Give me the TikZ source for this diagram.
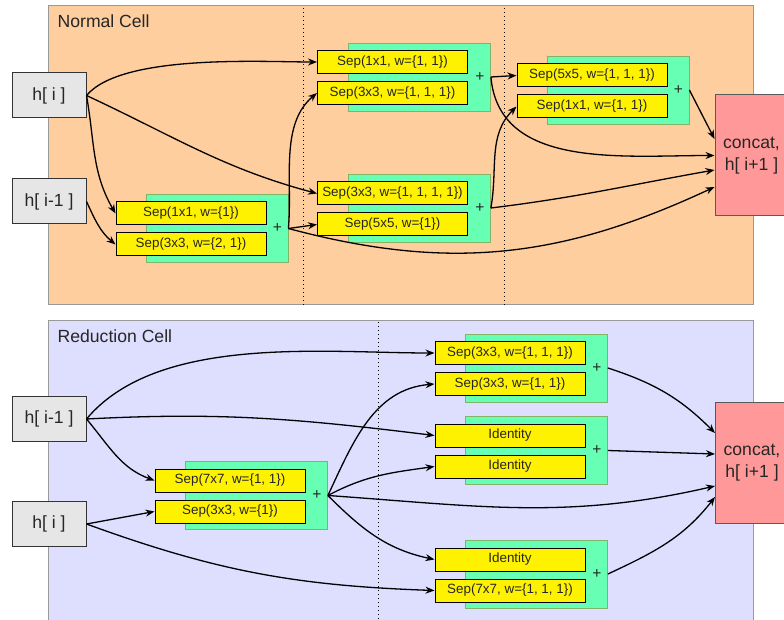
\documentclass[tikz,border=0pt]{standalone}
\usepackage{fontspec}
\setmainfont{Liberation Sans}
\usetikzlibrary{positioning,arrows.meta}
\definecolor{peach}{HTML}{FFCE9F}
\definecolor{lavender}{HTML}{DEDEFF}
\definecolor{mint}{HTML}{66FFB3}
\definecolor{mintline}{HTML}{82B366}
\definecolor{salmon}{HTML}{FF9999}
\definecolor{inpgray}{HTML}{E6E6E6}
\newcommand{\opfont}{\fontsize{13.4}{15}\selectfont}
\newcommand{\plusfont}{\fontsize{15.5}{17}\selectfont}
\newcommand{\boxfont}{\fontsize{17.6}{22}\selectfont}
\begin{document}
\begin{tikzpicture}[x=1pt,y=1pt,
   >={Stealth[length=9pt,width=7pt]},
   text=black!85,
   cell/.style={draw=black!40,line width=1pt},
   celltitle/.style={anchor=west,inner sep=0pt,font=\boxfont},
   sepline/.style={line width=1pt,dash pattern=on 1.2pt off 2.8pt},
   inp/.style={draw=black!80,fill=inpgray,line width=1pt,minimum width=74,minimum height=45,font=\boxfont},
   outp/.style={draw=black!65,fill=salmon,line width=1pt,minimum width=73,minimum height=121,align=center,font=\boxfont},
   add/.style={draw=mintline,fill=mint,line width=0.8pt,minimum height=68,text width=130,inner sep=6pt,align=right,font=\plusfont},
   op/.style={draw=black,fill=yellow,line width=1pt,minimum width=150,minimum height=23,inner sep=0pt,font=\opfont},
   every path/.style={line width=1.3pt}]
   \useasboundingbox (0,0) rectangle (784,619);

   \node[cell,fill=peach,minimum width=705,minimum height=299] (normal) at (400.5,463.5) {};
   \node[cell,fill=lavender,minimum width=705,minimum height=309] (reduction) at (400.5,143.5) {};
   \node[celltitle] (normaltitle) at (57,598) {Normal Cell};
   \node[celltitle] (reductiontitle) at (57,283) {Reduction Cell};
   \draw[sepline] (303,314) -- (303,613);
   \draw[sepline] (504,314) -- (504,613);
   \draw[sepline] (378,0) -- (378,298);

   \node[add] (addA) at (217,390.5) {+};
   \node[add] (addB) at (419.5,542) {+};
   \node[add] (addC) at (419.5,411) {+};
   \node[add] (addD) at (618,529) {+};
   \node[op] (a1) at (191,405.5) {Sep(1x1, w=\{1\})};
   \node[op,below=7pt of a1] (a2) {Sep(3x3, w=\{2, 1\})};
   \node[op] (b1) at (392.5,557) {Sep(1x1, w=\{1, 1\})};
   \node[op,below=7pt of b1] (b2) {Sep(3x3, w=\{1, 1, 1\})};
   \node[op] (c1) at (392.5,425.5) {Sep(3x3, w=\{1, 1, 1, 1\})};
   \node[op,below=7pt of c1] (c2) {Sep(5x5, w=\{1\})};
   \node[op] (d1) at (592,543.5) {Sep(5x5, w=\{1, 1, 1\})};
   \node[op,below=7pt of d1] (d2) {Sep(1x1, w=\{1, 1\})};
   \node[inp] (hiA) at (49,523.5) {h[ i ]};
   \node[inp,below=60pt of hiA] (himA) {h[ i-1 ]};
   \node[outp] (catA) at (751.5,463.5) {concat,\\h[ i+1 ]};

   \draw[->] (hiA.east) to[out=50,in=180,looseness=0.6] (b1.west);
   \draw[->] (hiA.east) to[out=-25,in=165] (c1.west);
   \draw[->] (hiA.east) to[out=-80,in=120] (a1.west);
   \draw[->] (himA.east) to[out=-65,in=140] (a2.west);
   \draw[->] (addA.east) to[out=85,in=220,looseness=0.9] (b2.west);
   \draw[->] (addA.east) -- (c2.west);
   \draw[->] (addA.east) to[out=-15,in=205] ([yshift=-31.5pt]catA.west);
   \draw[->] (addB.east) -- (d1.west);
   \draw[->] (addB.east) to[out=-85,in=180] (catA.west);
   \draw[->] (addC.east) to[out=80,in=225] (d2.west);
   \draw[->] (addC.east) to[out=7,in=190] ([yshift=-14.5pt]catA.west);
   \draw[->] (addD.east) -- ([yshift=16.5pt]catA.west);

   \node[add] (addE) at (256.5,123.5) {+};
   \node[add] (addF) at (536.5,251) {+};
   \node[add] (addG) at (536.5,168.5) {+};
   \node[add] (addH) at (536.5,45) {+};
   \node[op] (e1) at (230,138.5) {Sep(7x7, w=\{1, 1\})};
   \node[op,below=7pt of e1] (e2) {Sep(3x3, w=\{1\})};
   \node[op] (f1) at (510,266) {Sep(3x3, w=\{1, 1, 1\})};
   \node[op,below=7pt of f1] (f2) {Sep(3x3, w=\{1, 1\})};
   \node[op] (g1) at (510,183.5) {Identity};
   \node[op,below=7pt of g1] (g2) {Identity};
   \node[op] (h1) at (510,59.5) {Identity};
   \node[op,below=7pt of h1] (h2) {Sep(7x7, w=\{1, 1, 1\})};
   \node[inp] (himB) at (49,200) {h[ i-1 ]};
   \node[inp,below=59pt of himB] (hiB) {h[ i ]};
   \node[outp] (catB) at (752,156) {concat,\\h[ i+1 ]};

   \draw[->] (himB.east) to[out=50,in=180,looseness=0.8] (f1.west);
   \draw[->] (himB.east) to[out=3,in=173] (g1.west);
   \draw[->] (himB.east) to[out=-50,in=160] (e1.west);
   \draw[->] (hiB.east) -- (e2.west);
   \draw[->] (hiB.east) to[out=-20,in=178] (h2.west);
   \draw[->] (addE.east) to[out=65,in=185] (f2.west);
   \draw[->] (addE.east) to[out=28,in=188] (g2.west);
   \draw[->] (addE.east) to[out=-4,in=193] ([yshift=-23pt]catB.west);
   \draw[->] (addE.east) to[out=-45,in=168] (h1.west);
   \draw[->] (addF.east) to[out=-18,in=135] ([yshift=30pt]catB.west);
   \draw[->] (addG.east) -- ([yshift=9pt]catB.west);
   \draw[->] (addH.east) to[out=25,in=232] ([yshift=-34pt]catB.west);
\end{tikzpicture}
\end{document}
